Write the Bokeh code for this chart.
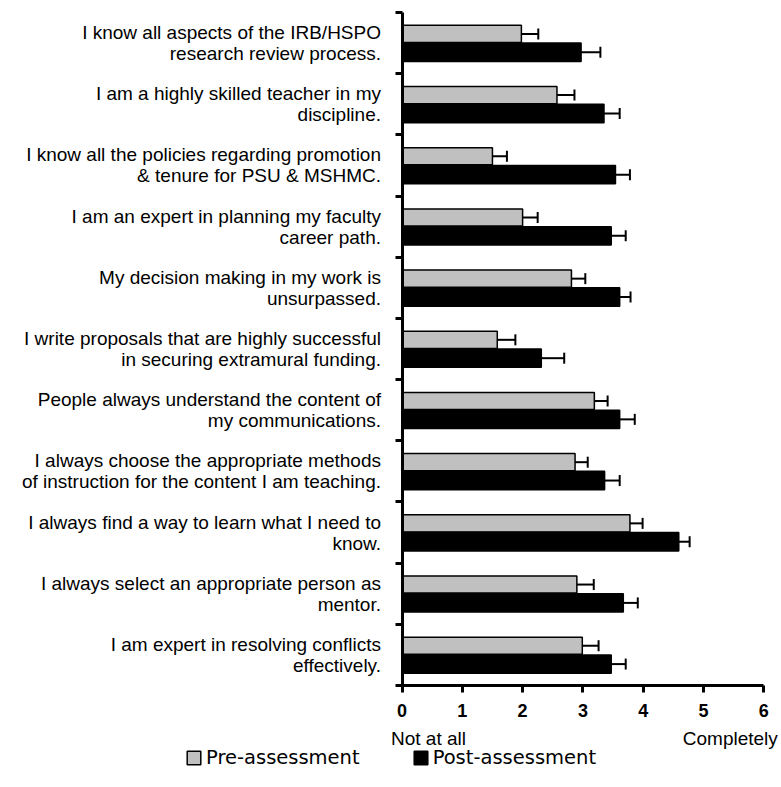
import numpy as np
from bokeh.plotting import figure
from bokeh.models import (ColumnDataSource, Range1d, FixedTicker, Legend, LegendItem,
                          LinearAxis)
from bokeh.core.properties import value
from bokeh.embed import file_html
from bokeh.resources import INLINE

labels_line1 = [
    "I know all aspects of the IRB/HSPO",
    "I am a highly skilled teacher in my",
    "I know all the policies regarding promotion",
    "I am an expert in planning my faculty",
    "My decision making in my work is",
    "I write proposals that are highly successful",
    "People always understand the content of",
    "I always choose the appropriate methods",
    "I always find a way to learn what I need to",
    "I always select an appropriate person as",
    "I am expert in resolving conflicts",
]
labels_line2 = [
    "research review process.",
    "discipline.",
    "& tenure for PSU & MSHMC.",
    "career path.",
    "unsurpassed.",
    "in securing extramural funding.",
    "my communications.",
    "of instruction for the content I am teaching.",
    "know.",
    "mentor.",
    "effectively.",
]
pre_mean = [1.98, 2.57, 1.50, 2.00, 2.81, 1.58, 3.19, 2.87, 3.78, 2.90, 2.99]
pre_err = [0.28, 0.29, 0.24, 0.25, 0.23, 0.30, 0.22, 0.21, 0.21, 0.28, 0.27]
post_mean = [2.97, 3.35, 3.54, 3.47, 3.61, 2.31, 3.61, 3.36, 4.59, 3.67, 3.47]
post_err = [0.32, 0.26, 0.24, 0.24, 0.18, 0.38, 0.25, 0.25, 0.18, 0.24, 0.24]
x_ticks = [0, 1, 2, 3, 4, 5, 6]
scale_ends = ["Not at all", "Completely"]
series_names = ["Pre-assessment", "Post-assessment"]
colors = ["#c0c0c0", "black"]

n = len(labels_line1)
center = np.arange(n) + 0.5
pre_y = center - 0.15
post_y = center + 0.15

# layout: the frame fills the canvas; the axes are pinned at x=0 and y=n
W, H = 781, 787
px_x = (763.3 - 401.5) / 6.0       # pixels per x unit
px_y = (685.0 - 12.0) / n          # pixels per category
x_lo = -401.5 / px_x
x_hi = (W - 401.5) / px_x
y_top = -12.0 / px_y
y_bot = n + (H - 685.0) / px_y

p = figure(width=W, height=H, output_backend="svg", toolbar_location=None,
           x_range=Range1d(x_lo, x_hi), y_range=Range1d(y_bot, y_top),
           x_axis_location=None, y_axis_location=None,
           min_border_left=0, min_border_right=0, min_border_top=0,
           min_border_bottom=0)
p.outline_line_color = None
p.grid.visible = False

pre_src = ColumnDataSource(dict(y=pre_y, right=pre_mean,
                                e=np.array(pre_mean) + np.array(pre_err)))
post_src = ColumnDataSource(dict(y=post_y, right=post_mean,
                                 e=np.array(post_mean) + np.array(post_err)))

r_pre = p.hbar(y="y", left=0, right="right", height=0.28, source=pre_src,
               fill_color=colors[0], line_color="black", line_width=1.5)
r_post = p.hbar(y="y", left=0, right="right", height=0.30, source=post_src,
                fill_color=colors[1], line_color="black", line_width=1.5)

for src in (pre_src, post_src):
    p.segment(x0="right", x1="e", y0="y", y1="y", source=src,
              line_color="black", line_width=2)
    d = src.data
    p.segment(x0=d["e"], x1=d["e"], y0=np.array(d["y"]) - 0.09,
              y1=np.array(d["y"]) + 0.09, line_color="black", line_width=2)

# x axis pinned at the bottom of the categories
xa = LinearAxis(fixed_location=n, bounds=(x_ticks[0], x_ticks[-1]),
                ticker=FixedTicker(ticks=x_ticks))
xa.axis_line_width = 3
xa.major_tick_line_width = 3
xa.major_tick_out = 7
xa.major_tick_in = 0
xa.minor_tick_line_color = None
xa.major_label_text_font = "Liberation Sans"
xa.major_label_text_font_style = "bold"
xa.major_label_text_font_size = "18px"
xa.major_label_text_color = "black"
xa.major_label_standoff = 11
p.add_layout(xa, "below")

# y axis pinned at x=0: labels at category centres, ticks at boundaries
ya = LinearAxis(fixed_location=0, bounds=(0, n),
                ticker=FixedTicker(ticks=list(center), minor_ticks=list(range(n + 1))))
ya.major_label_overrides = {float(c): a + "\n" + b
                            for c, a, b in zip(center, labels_line1, labels_line2)}
ya.axis_line_width = 3
ya.major_tick_line_color = None
ya.major_tick_out = 0
ya.major_tick_in = 0
ya.minor_tick_line_color = "black"
ya.minor_tick_line_width = 3
ya.minor_tick_out = 7
ya.minor_tick_in = 0
ya.major_label_standoff = 14
ya.major_label_text_align = "right"
ya.major_label_text_font = "Liberation Sans"
ya.major_label_text_font_size = "19px"
ya.major_label_text_line_height = 1.0
ya.major_label_text_color = "black"
p.add_layout(ya, "left")

# scale-end words
p.text(x=[x_ticks[0]], y=[n], y_offset=53, x_offset=-11, text=[scale_ends[0]],
       text_align="left", text_baseline="middle",
       text_font=value("Liberation Sans"), text_font_size="19px",
       text_color="black")
p.text(x=[x_ticks[-1]], y=[n], y_offset=53, x_offset=14, text=[scale_ends[1]],
       text_align="right", text_baseline="middle",
       text_font=value("Liberation Sans"), text_font_size="19px",
       text_color="black")

legend = Legend(items=[LegendItem(label=series_names[0], renderers=[r_pre]),
                       LegendItem(label=series_names[1], renderers=[r_post])],
                orientation="horizontal", location=(185, 18),
                glyph_width=17, glyph_height=17, label_height=17,
                label_standoff=4, spacing=52, padding=0, margin=0,
                border_line_color=None, background_fill_alpha=0,
                label_text_font="DejaVu Sans", label_text_font_size="19.5px",
                label_text_color="black")
p.add_layout(legend)

open("out.html", "w").write(file_html(p, INLINE))
